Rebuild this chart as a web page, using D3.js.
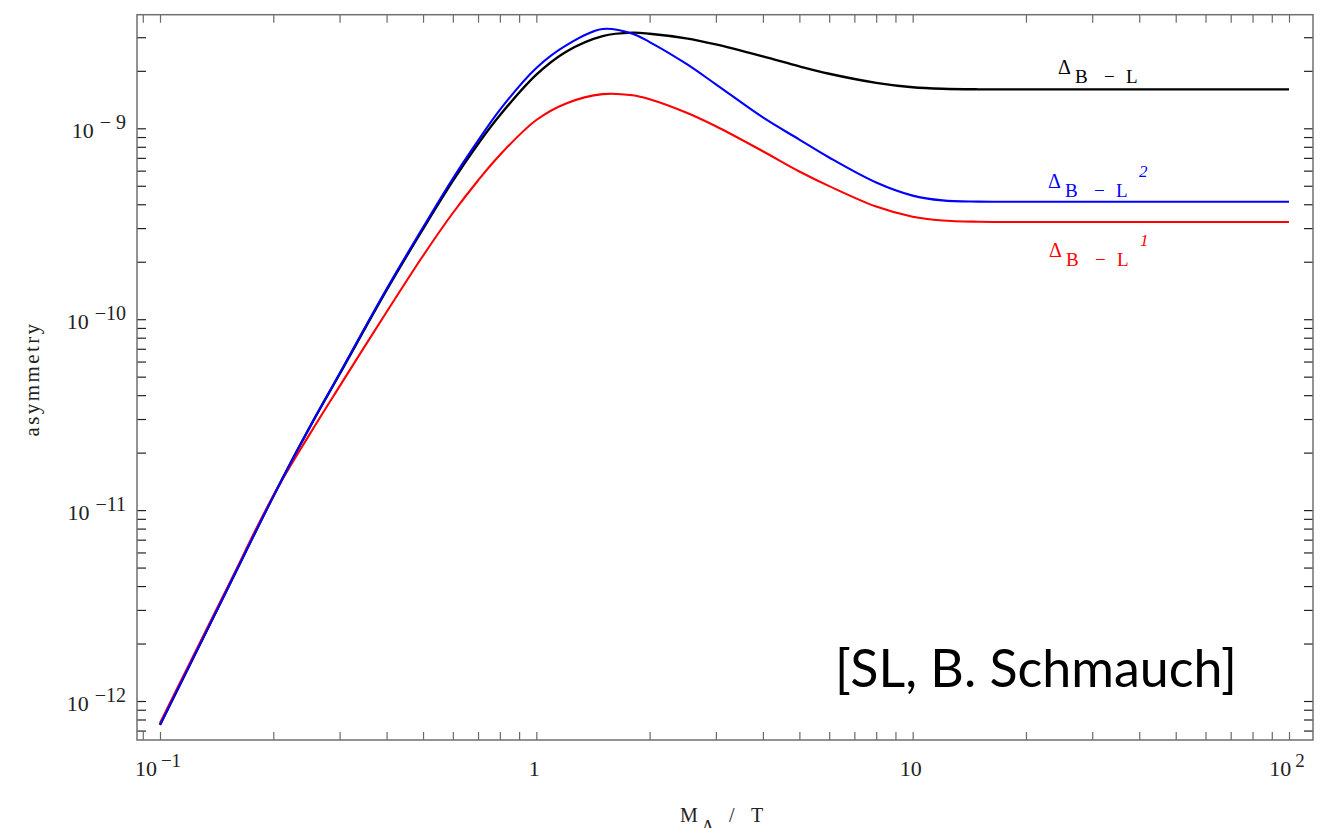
<!DOCTYPE html>
<html>
<head>
<meta charset="utf-8">
<script src="https://cdn.jsdelivr.net/npm/d3@7"></script>
<style>
  body { margin: 0; background: #fff; }
  svg text { white-space: pre; }
</style>
</head>
<body>
<script>
// M_Delta / T values
var xValues = [0.1, 0.15, 0.2, 0.25, 0.3, 0.4, 0.5, 0.6, 0.7, 0.8, 1, 1.2, 1.5, 1.8, 2, 2.5, 3, 4, 5, 6, 8, 10, 12, 15, 20, 30, 50, 100];

// Delta_{B-L}
var blackValues = [7.5e-13, 3.76e-12, 1.18e-11, 2.72e-11, 5.15e-11, 1.42e-10, 2.97e-10, 5.30e-10, 8.28e-10, 1.17e-9, 1.91e-9, 2.52e-9, 3.04e-9, 3.17e-9, 3.13e-9, 2.96e-9, 2.75e-9, 2.38e-9, 2.11e-9, 1.93e-9, 1.73e-9, 1.64e-9, 1.61e-9, 1.60e-9, 1.60e-9, 1.60e-9, 1.60e-9, 1.60e-9];
// Delta_{B-L}^1
var redValues = [7.67e-13, 3.83e-12, 1.19e-11, 2.5e-11, 4.45e-11, 1.09e-10, 2.15e-10, 3.60e-10, 5.33e-10, 7.25e-10, 1.105e-9, 1.35e-9, 1.51e-9, 1.49e-9, 1.42e-9, 1.21e-9, 1.025e-9, 7.58e-10, 5.94e-10, 4.98e-10, 3.89e-10, 3.44e-10, 3.29e-10, 3.24e-10, 3.23e-10, 3.23e-10, 3.23e-10, 3.23e-10];
// Delta_{B-L}^2
var blueValues = [7.5e-13, 3.76e-12, 1.18e-11, 2.72e-11, 5.2e-11, 1.44e-10, 3.03e-10, 5.46e-10, 8.62e-10, 1.25e-9, 2.07e-9, 2.72e-9, 3.31e-9, 3.13e-9, 2.83e-9, 2.18e-9, 1.70e-9, 1.14e-9, 8.73e-10, 7.03e-10, 5.20e-10, 4.44e-10, 4.19e-10, 4.13e-10, 4.12e-10, 4.12e-10, 4.12e-10, 4.12e-10];

// labelled ticks: value, mantissa text, exponent text
var xTickLabels = [[0.1, "10", "−1"], [1, "1", ""], [10, "10", ""], [100, "10", "2"]];
var yTickLabels = [[1e-9, "10", "− 9"], [1e-10, "10", "−10"], [1e-11, "10", "−11"], [1e-12, "10", "−12"]];

var svgWidth = 1326, svgHeight = 828;
var frameLeft = 137, frameRight = 1313, frameTop = 14.7, frameBottom = 740;
var serif = "'Liberation Serif', 'Times New Roman', serif";

var svg = d3.select("body").append("svg")
    .attr("width", svgWidth)
    .attr("height", svgHeight)
    .style("font-family", serif);

var x = d3.scaleLog().domain([0.1, 100]).range([160, 1289]);
var y = d3.scaleLog().domain([1e-12, 1e-9]).range([701, 128.3]);

// minor + major tick positions
var xTicks = [], yTicks = [];
for (var e = -2; e <= 2; e++) {
    for (var m = 1; m <= 9; m++) {
        var v = +(m * Math.pow(10, e)).toPrecision(3);
        if (v >= 0.09 && v <= 100) xTicks.push(v);
    }
}
for (var e = -13; e <= -9; e++) {
    for (var m = 1; m <= 9; m++) {
        var v = +(m * Math.pow(10, e)).toPrecision(3);
        if (v >= 6.9e-13 && v <= 3.1e-9) yTicks.push(v);
    }
}

function tickAxis(axis, tx, ty, color) {
    var g = svg.append("g")
        .attr("transform", "translate(" + tx + "," + ty + ")")
        .call(axis);
    g.select(".domain").remove();
    g.selectAll(".tick line").attr("stroke", color).attr("stroke-width", 1.2);
    return g;
}

tickAxis(d3.axisBottom(x).tickValues(xTicks).tickSize(-8).tickFormat(""), 0, frameBottom, "#6a6a6a");
tickAxis(d3.axisTop(x).tickValues(xTicks).tickSize(-8).tickFormat(""), 0, frameTop, "#6a6a6a");
tickAxis(d3.axisLeft(y).tickValues(yTicks).tickSize(-9).tickFormat(""), frameLeft, 0, "#222");
tickAxis(d3.axisRight(y).tickValues(yTicks).tickSize(-9).tickFormat(""), frameRight, 0, "#222");

// frame
svg.append("rect")
    .attr("x", frameLeft).attr("y", frameTop)
    .attr("width", frameRight - frameLeft).attr("height", frameBottom - frameTop)
    .attr("fill", "none")
    .attr("stroke", "#707070")
    .attr("stroke-width", 1.5);

// tick labels
svg.selectAll(".xlab")
    .data(xTickLabels)
    .enter()
    .append("text")
    .attr("class", "xlab")
    .attr("x", function(d) { return x(d[0]) - 2; })
    .attr("y", 776)
    .attr("text-anchor", "middle")
    .attr("font-size", 22)
    .attr("fill", "#222")
    .each(function(d) {
        var t = d3.select(this);
        t.append("tspan").text(d[1]);
        if (d[2]) t.append("tspan").attr("dx", 4).attr("dy", -9).attr("font-size", 19).text(d[2]);
    });

svg.selectAll(".ylab")
    .data(yTickLabels)
    .enter()
    .append("text")
    .attr("class", "ylab")
    .attr("x", 126)
    .attr("y", function(d) { return y(d[0]) + 10; })
    .attr("text-anchor", "end")
    .attr("font-size", 22)
    .attr("fill", "#222")
    .each(function(d) {
        var t = d3.select(this);
        t.append("tspan").text(d[1]);
        t.append("tspan").attr("dx", 6).attr("dy", -9).attr("font-size", 20).text(d[2]);
    });

// axis titles
svg.append("text")
    .attr("transform", "translate(38.5,379) rotate(-90)")
    .attr("text-anchor", "middle")
    .attr("font-size", 21)
    .attr("letter-spacing", 2.4)
    .attr("fill", "#222")
    .text("asymmetry");

var xt = svg.append("text").attr("x", 680).attr("y", 822).attr("font-size", 20).attr("fill", "#222");
xt.append("tspan").text("M");
xt.append("tspan").attr("x", 702).attr("dy", 11).attr("font-size", 18).text("Δ");
xt.append("tspan").attr("x", 729).attr("dy", -11).text("/");
xt.append("tspan").attr("x", 751).text("T");

// curves
var series = [
    {values: blackValues, color: "#000", width: 2.4},
    {values: redValues, color: "#ff0000", width: 2.1},
    {values: blueValues, color: "#0000ff", width: 2.1}
];

var line = d3.line()
    .x(function(d) { return x(d[0]); })
    .y(function(d) { return y(d[1]); })
    .curve(d3.curveCatmullRom.alpha(0.5));

svg.selectAll(".curve")
    .data(series)
    .enter()
    .append("path")
    .attr("class", "curve")
    .attr("d", function(s) { return line(xValues.map(function(xv, i) { return [xv, s.values[i]]; })); })
    .attr("fill", "none")
    .attr("stroke", function(s) { return s.color; })
    .attr("stroke-width", function(s) { return s.width; })
    .attr("stroke-linejoin", "round");

// curve labels
function curveLabel(lx, ly, color, sup) {
    var t = svg.append("text").attr("fill", color).attr("font-size", 19);
    t.append("tspan").attr("x", lx).attr("y", ly).attr("font-size", 20).text("Δ");
    t.append("tspan").attr("x", lx + 17).attr("y", ly + 9).text("B");
    t.append("tspan").attr("x", lx + 46).attr("y", ly + 9).text("−");
    t.append("tspan").attr("x", lx + 68).attr("y", ly + 9).text("L");
    if (sup) t.append("tspan").attr("x", lx + 91).attr("y", ly - 11)
        .attr("font-style", "italic").attr("font-size", 17).text(sup);
}
curveLabel(1058, 74, "#000", "");
curveLabel(1048, 188, "#0000ff", "2");
curveLabel(1049, 257, "#ff0000", "1");

// credit
var credit = svg.append("text")
    .attr("x", 835)
    .attr("y", 687)
    .style("font-family", "Lato, 'Open Sans', sans-serif")
    .attr("font-size", 56)
    .attr("fill", "#000")
    .text("[SL, B. Schmauch]");
var w = credit.node().getComputedTextLength();
credit.attr("font-size", 56 * 402 / w);
</script>
</body>
</html>
